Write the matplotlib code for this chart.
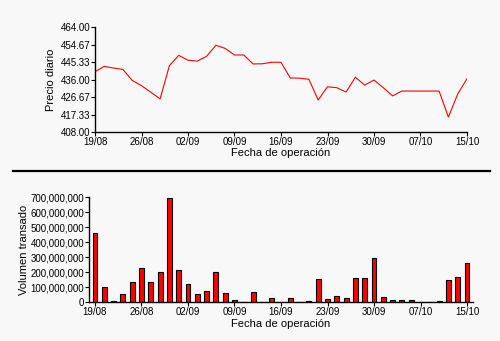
import matplotlib
matplotlib.use('Agg')
from matplotlib import pyplot as plt
from matplotlib.lines import Line2D
from matplotlib.ticker import FuncFormatter

plt.rcParams['font.family'] = ['Liberation Sans', 'DejaVu Sans']

# trading-day index, tick labels every 5 sessions
tick_pos = [0, 5, 10, 15, 20, 25, 30, 35, 40]
tick_labels = ['19/08', '26/08', '02/09', '09/09', '16/09', '23/09', '30/09', '07/10', '15/10']

precio = [440.3, 443.1, 442.2, 441.5, 435.6, 432.8, 429.3, 425.7, 443.5, 449.0,
          446.4, 445.9, 448.5, 454.4, 452.7, 449.2, 449.2, 444.4, 444.5, 445.3,
          445.3, 436.9, 436.8, 436.2, 425.1, 432.2, 431.7, 429.4, 437.3, 433.1,
          435.8, 431.7, 427.3, 429.9, 429.9, 429.9, 429.9, 429.9, 416.0, 428.3,
          436.5]

volumen = [459e6, 98e6, 5e6, 51e6, 132e6, 225e6, 132e6, 199e6, 694e6, 212e6,
           118e6, 51e6, 74e6, 199e6, 58e6, 11e6, 0, 65e6, 0, 25e6,
           0, 25e6, 0, 5e6, 152e6, 18e6, 38e6, 25e6, 158e6, 158e6,
           292e6, 31e6, 11e6, 11e6, 11e6, 0, 0, 4e6, 145e6, 165e6,
           259e6]

x = list(range(len(precio)))
bg = '#f8f8f8'

fig = plt.figure(figsize=(5, 3.41), dpi=100, facecolor=bg)

# price chart
ax1 = fig.add_axes([0.19, 0.6129, 0.744, 0.307])
ax1.set_facecolor(bg)
ax1.plot(x, precio, color='#ff0000', linewidth=0.8)
ax1.set_xlim(0, 40)
ax1.set_ylim(408, 464)
ax1.set_yticks([408, 417.33, 426.67, 436, 445.33, 454.67, 464])
ax1.yaxis.set_major_formatter(FuncFormatter(lambda v, p: '%.2f' % v))
ax1.set_xticks(tick_pos)
ax1.set_xticklabels(tick_labels)
ax1.set_ylabel('Precio diario', fontsize=8)
ax1.set_xlabel('Fecha de operación', fontsize=8)
ax1.yaxis.set_label_coords(-0.105, 0.5)
ax1.xaxis.set_label_coords(0.5, -0.153)

# volume chart
ax2 = fig.add_axes([0.178, 0.1144, 0.768, 0.307])
ax2.set_facecolor(bg)
ax2.bar(x, volumen, width=0.52, color='#ff0000', edgecolor='black', linewidth=0.8)
ax2.set_xlim(-0.645, 40.645)
ax2.set_ylim(0, 700e6)
ax2.set_yticks([i * 100e6 for i in range(8)])
ax2.yaxis.set_major_formatter(FuncFormatter(lambda v, p: '{:,}'.format(int(v))))
ax2.set_xticks(tick_pos)
ax2.set_xticklabels(tick_labels)
ax2.set_ylabel('Volumen transado', fontsize=8)
ax2.set_xlabel('Fecha de operación', fontsize=8)
ax2.yaxis.set_label_coords(-0.156, 0.5)
ax2.xaxis.set_label_coords(0.5, -0.162)

for ax in (ax1, ax2):
    ax.spines['top'].set_visible(False)
    ax.spines['right'].set_visible(False)
    ax.spines['left'].set_linewidth(1)
    ax.spines['bottom'].set_linewidth(1)
    ax.tick_params(axis='both', labelsize=7, length=3, width=0.8, pad=0.5, direction='out')

# separator between charts
fig.add_artist(Line2D([0.026, 0.98], [0.4985, 0.4985], color='black', linewidth=1.6))

fig.savefig('out.png', dpi=100, facecolor=bg)
